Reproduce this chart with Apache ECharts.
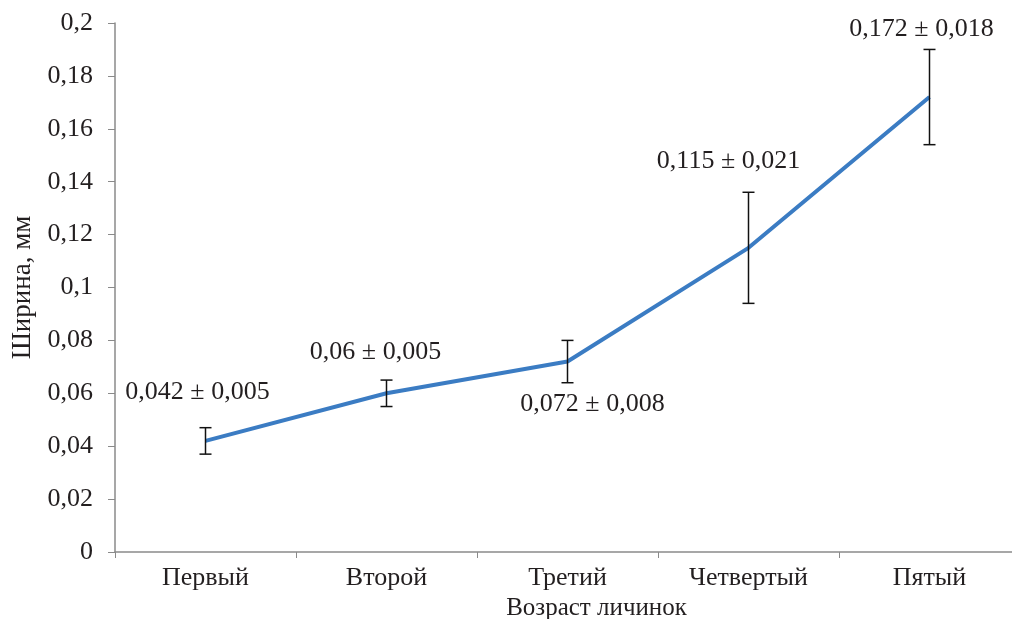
<!DOCTYPE html>
<html><head><meta charset="utf-8">
<script src="https://cdn.jsdelivr.net/npm/echarts@6/dist/echarts.min.js"></script>
<style>html,body{margin:0;padding:0;background:#fff}#c{width:1012px;height:619px}</style>
</head><body><div id="c"></div>
<script>
var categories = ['Первый', 'Второй', 'Третий', 'Четвертый', 'Пятый'];
var values = [0.042, 0.06, 0.072, 0.115, 0.172];
var errors = [0.005, 0.005, 0.008, 0.021, 0.018];
var yTicks = [0, 0.02, 0.04, 0.06, 0.08, 0.1, 0.12, 0.14, 0.16, 0.18, 0.2];

var labelOffsets = [[-8, -49], [-11, -41], [25, 43], [-20, -87], [-8, -68]];
var FONT = '"Liberation Serif", "DejaVu Serif", serif';
var TXT = '#231f20';
function fmt(v){ return String(+(+v).toFixed(3)).replace('.', ','); }

var chart = echarts.init(document.getElementById('c'));
chart.setOption({
  animation: false,
  grid: { left: 115, right: -8, top: 23, bottom: 67, outerBoundsMode: 'none', containLabel: false },
  xAxis: {
    type: 'category', data: categories, boundaryGap: true,
    name: 'Возраст личинок', nameLocation: 'middle', nameGap: 42,
    nameTextStyle: { fontFamily: FONT, fontSize: 25, color: TXT, padding: [0, 0, 0, 58] },
    axisLine: { lineStyle: { color: '#8a8a8a', width: 1.5 } },
    axisTick: { show: true, length: 6, lineStyle: { color: '#8a8a8a' } },
    axisLabel: { fontFamily: FONT, fontSize: 26, color: TXT, margin: 13 }
  },
  yAxis: {
    type: 'value', min: 0, max: 0.2, interval: 0.02,
    name: 'Ширина, мм', nameLocation: 'middle', nameGap: 78, nameRotate: 90,
    nameTextStyle: { fontFamily: FONT, fontSize: 27, color: TXT },
    axisLine: { show: true, lineStyle: { color: '#8a8a8a', width: 1.5 } },
    axisTick: { show: true, length: 7, lineStyle: { color: '#8a8a8a' } },
    splitLine: { show: false },
    axisLabel: { fontFamily: FONT, fontSize: 26, color: TXT, margin: 22, formatter: function(v){ return fmt(v); } }
  },
  series: [
    {
      type: 'line', data: values, symbol: 'none', z: 2,
      lineStyle: { color: '#3b7cc3', width: 4 }
    },
    {
      type: 'custom', z: 3,
      data: values.map(function(v, i){ return [i, v, errors[i]]; }),
      renderItem: function(params, api){
        var i = api.value(0), v = api.value(1), e = api.value(2);
        var top = api.coord([i, v + e]);
        var bot = api.coord([i, v - e]);
        var c = api.coord([i, v]);
        var w = 6;
        var st = { stroke: '#111', lineWidth: 1.5 };
        var off = labelOffsets[params.dataIndex];
        return { type: 'group', children: [
          { type: 'line', shape: { x1: top[0], y1: top[1], x2: bot[0], y2: bot[1] }, style: st },
          { type: 'line', shape: { x1: top[0]-w, y1: top[1], x2: top[0]+w, y2: top[1] }, style: st },
          { type: 'line', shape: { x1: bot[0]-w, y1: bot[1], x2: bot[0]+w, y2: bot[1] }, style: st },
          { type: 'text', x: c[0] + off[0], y: c[1] + off[1], style: {
              text: fmt(v) + ' ± ' + fmt(e), fontFamily: FONT, fontSize: 26, fill: TXT,
              align: 'center', verticalAlign: 'middle' } }
        ]};
      }
    }
  ]
});
</script></body></html>
